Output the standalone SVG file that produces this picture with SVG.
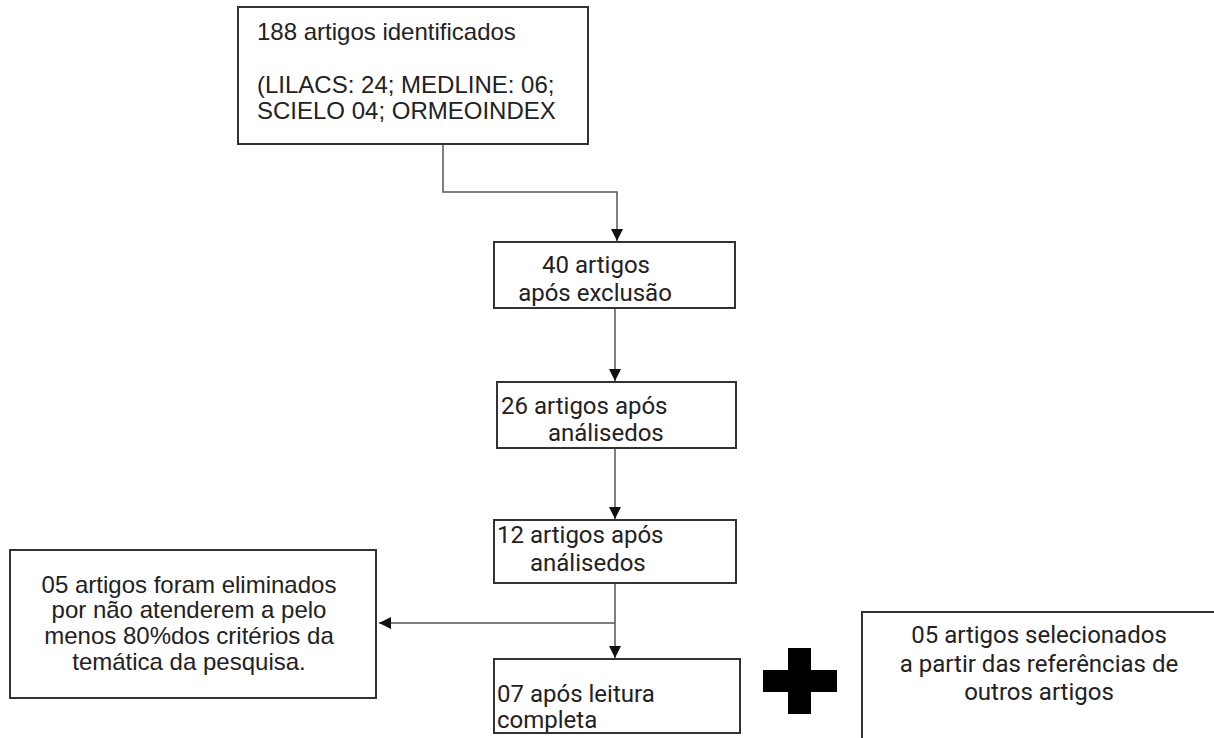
<svg xmlns="http://www.w3.org/2000/svg" width="1214" height="738" viewBox="0 0 1214 738">
<style>
.box{fill:#fff;stroke:#333;stroke-width:2}
.arial{font-family:"Liberation Sans",Arial,sans-serif;font-size:24px;fill:#222}
.rob{font-family:Roboto,"Liberation Sans",sans-serif;font-size:24px;fill:#222}
.mid{text-anchor:middle}
.conn{fill:none;stroke:#555;stroke-width:1.5}
</style>
<defs>
<marker id="arr" viewBox="0 0 12 12" refX="12" refY="6" markerWidth="12" markerHeight="12" markerUnits="userSpaceOnUse" orient="auto">
<path d="M0,0 L12,6 L0,12 Z" fill="#111"/>
</marker>
</defs>
<rect width="1214" height="738" fill="#fff"/>
<g id="connectors">
<path class="conn" d="M443,144 V192 H617 V241" marker-end="url(#arr)"/>
<path class="conn" d="M615,308 V381" marker-end="url(#arr)"/>
<path class="conn" d="M615,448 V519" marker-end="url(#arr)"/>
<path class="conn" d="M615,583 V658" marker-end="url(#arr)"/>
<path class="conn" d="M615,623 H379" marker-end="url(#arr)"/>
</g>
<g id="n1">
<rect class="box" x="238" y="7" width="350" height="137"/>
<text class="arial" x="257" y="40">188 artigos identificados</text>
<text class="arial" x="257" y="93">(LILACS: 24; MEDLINE: 06;</text>
<text class="arial" x="257" y="119">SCIELO 04; ORMEOINDEX</text>
</g>
<g id="n2">
<rect class="box" x="494" y="242" width="241" height="66"/>
<text class="rob mid" x="596" y="273">40 artigos</text>
<text class="rob mid" x="595" y="301">após exclusão</text>
</g>
<g id="n3">
<rect class="box" x="497" y="382" width="239" height="66"/>
<text class="rob" x="501" y="414">26 artigos após</text>
<text class="rob" x="548" y="441">análisedos</text>
</g>
<g id="n4">
<rect class="box" x="494" y="520" width="242" height="63"/>
<text class="rob" x="497" y="543">12 artigos após</text>
<text class="rob" x="530" y="571">análisedos</text>
</g>
<g id="n5">
<rect class="box" x="494" y="659" width="246" height="74"/>
<text class="rob" x="497" y="702">07 após leitura</text>
<text class="rob" x="497" y="728">completa</text>
</g>
<g id="n6">
<rect class="box" x="10" y="550" width="366" height="148"/>
<text class="arial mid" x="189" y="593">05 artigos foram eliminados</text>
<text class="arial mid" x="189" y="618">por não atenderem a pelo</text>
<text class="arial mid" x="189" y="644">menos 80%dos critérios da</text>
<text class="arial mid" x="189" y="670">temática da pesquisa.</text>
</g>
<g id="plus">
<rect x="763" y="670" width="74" height="22" fill="#000"/>
<rect x="788" y="648" width="23" height="66" fill="#000"/>
</g>
<g id="n7">
<rect class="box" x="862" y="612" width="380" height="150"/>
<text class="rob mid" x="1039" y="643">05 artigos selecionados</text>
<text class="rob mid" x="1039" y="672">a partir das referências de</text>
<text class="rob mid" x="1039" y="700">outros artigos</text>
</g>
</svg>
